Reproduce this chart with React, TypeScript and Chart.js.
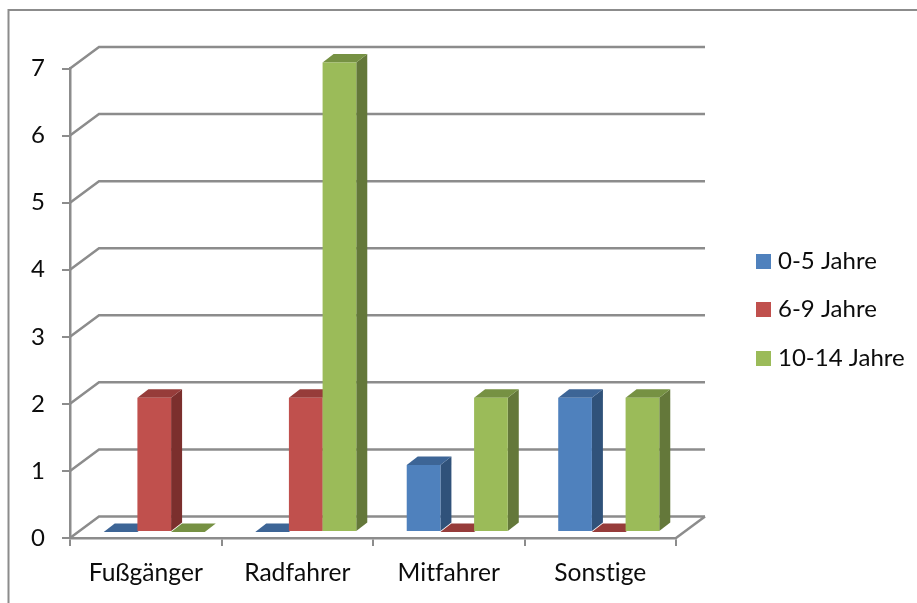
import React, { useEffect, useRef } from "react";
import { Chart, registerables } from "chart.js";

Chart.register(...registerables);

const categories = ["Fußgänger", "Radfahrer", "Mitfahrer", "Sonstige"];
const seriesNames = ["0-5 Jahre", "6-9 Jahre", "10-14 Jahre"];
const youngest = [0, 0, 1, 2];
const middle = [2, 2, 0, 0];
const oldest = [0, 7, 2, 2];

const frontColors = ["#4F81BD", "#C0504D", "#9BBB59"];
const topColors = ["#3D6596", "#963C3A", "#769143"];
const sideColors = ["#30527A", "#7B2F2D", "#64783A"];

const AXIS_COLOR = "#8C8C8C";
const TEXT_COLOR = "#0C0C0C";
const FONT_FAMILY = "Lato";
const FONT_SIZE = 24;
const CATEGORY_FONT_SIZE = 24.6;
const LINE_WIDTH = 2.5;

// Floor and wall depth of the pseudo-3D box, and the depth of a single bar.
const WALL_DX = 29;
const WALL_DY = 21.5;
const BAR_DX = 11;
const BAR_DY = 8.5;
const BAR_SHIFT_X = 8.5;
const BAR_SHIFT_Y = 6;

const LEGEND_X = 756;
const LEGEND_ROWS = [261.5, 309.5, 358.5];

const polygon = (ctx: CanvasRenderingContext2D, pts: number[][], fill: string) => {
  ctx.beginPath();
  pts.forEach(([x, y], i) => (i ? ctx.lineTo(x, y) : ctx.moveTo(x, y)));
  ctx.closePath();
  ctx.fillStyle = fill;
  ctx.fill();
};

const framePlugin = {
  id: "frame",
  beforeDraw(chart: any) {
    const { ctx } = chart;
    // A tiny spacing keeps the "ti" and "tf" pairs as separate letters.
    ctx.letterSpacing = "0.01px";
    ctx.save();
    ctx.strokeStyle = AXIS_COLOR;
    ctx.lineWidth = 2;
    ctx.beginPath();
    ctx.moveTo(8.5, chart.height);
    ctx.lineTo(8.5, 10);
    ctx.lineTo(chart.width, 10);
    ctx.stroke();
    ctx.restore();
  },
};

// Back wall lines, side wall diagonals and floor edge.
const wallPlugin = {
  id: "wall",
  beforeDatasetsDraw(chart: any) {
    const { ctx, chartArea, scales } = chart;
    const { left, right } = chartArea;
    ctx.save();
    ctx.strokeStyle = AXIS_COLOR;
    ctx.lineWidth = LINE_WIDTH;
    scales.y.ticks.forEach((t: any) => {
      const y = scales.y.getPixelForValue(t.value);
      ctx.beginPath();
      ctx.moveTo(left, y);
      ctx.lineTo(left + WALL_DX, y - WALL_DY);
      ctx.lineTo(right + WALL_DX, y - WALL_DY);
      ctx.stroke();
    });
    const y0 = scales.y.getPixelForValue(0);
    ctx.beginPath();
    ctx.moveTo(right + WALL_DX, y0 - WALL_DY);
    ctx.lineTo(right, y0);
    ctx.stroke();
    ctx.restore();
  },
};

// Paints the series front to back in series order, so that each bar's front
// face covers the depth faces of its left neighbour.
const barDepthPlugin = {
  id: "barDepth",
  beforeDatasetsDraw(chart: any) {
    const { ctx } = chart;
    chart.data.datasets.forEach((_: any, i: number) => {
      const meta = chart.getDatasetMeta(i);
      ctx.save();
      ctx.translate(BAR_SHIFT_X, -BAR_SHIFT_Y);
      meta.data.forEach((bar: any) => {
        const l = bar.x - bar.width / 2;
        const r = bar.x + bar.width / 2;
        const t = bar.y;
        const b = bar.base;
        if (b > t) {
          polygon(ctx, [[r, t], [r + BAR_DX, t - BAR_DY], [r + BAR_DX, b - BAR_DY], [r, b]], sideColors[i]);
        }
        polygon(ctx, [[l, t], [l + BAR_DX, t - BAR_DY], [r + BAR_DX, t - BAR_DY], [r, t]], topColors[i]);
      });
      meta.controller.draw();
      ctx.restore();
    });
    return false;
  },
};

const sideLegendPlugin = {
  id: "sideLegend",
  afterDraw(chart: any) {
    const { ctx } = chart;
    ctx.save();
    ctx.font = `${FONT_SIZE}px ${FONT_FAMILY}`;
    ctx.textBaseline = "middle";
    ctx.textAlign = "left";
    chart.data.datasets.forEach((ds: any, i: number) => {
      const cy = LEGEND_ROWS[i];
      ctx.fillStyle = ds.backgroundColor;
      ctx.fillRect(LEGEND_X, cy - 7.5, 15, 15);
      ctx.fillStyle = TEXT_COLOR;
      ctx.fillText(ds.label, LEGEND_X + 22, cy);
    });
    ctx.restore();
  },
};

export default function App() {
  const ref = useRef<HTMLCanvasElement>(null);

  useEffect(() => {
    const chart = new Chart(ref.current!, {
      type: "bar",
      data: {
        labels: categories,
        datasets: [youngest, middle, oldest].map((data, i) => ({
          label: seriesNames[i],
          data,
          backgroundColor: frontColors[i],
          categoryPercentage: 0.667,
          barPercentage: 1,
        })),
      },
      options: {
        animation: false,
        responsive: false,
        layout: { padding: { left: 0, top: 68.5, right: 241, bottom: 0 } },
        plugins: { legend: { display: false }, tooltip: { enabled: false } },
        scales: {
          x: {
            afterFit: (s: any) => {
              s.height = 65;
            },
            border: { color: AXIS_COLOR, width: LINE_WIDTH },
            grid: {
              offset: true,
              drawOnChartArea: false,
              color: AXIS_COLOR,
              lineWidth: 2,
              tickLength: 8,
            },
            ticks: {
              color: TEXT_COLOR,
              padding: 12,
              maxRotation: 0,
              font: { family: FONT_FAMILY, size: CATEGORY_FONT_SIZE },
            },
          },
          y: {
            min: 0,
            max: 7,
            afterFit: (s: any) => {
              s.width = 70;
            },
            border: { color: AXIS_COLOR, width: LINE_WIDTH },
            grid: {
              drawOnChartArea: false,
              color: AXIS_COLOR,
              lineWidth: 2,
              tickLength: 8,
            },
            ticks: {
              stepSize: 1,
              color: TEXT_COLOR,
              padding: 17,
              font: { family: FONT_FAMILY, size: FONT_SIZE },
            },
          },
        },
      },
      plugins: [framePlugin, wallPlugin, barDepthPlugin, sideLegendPlugin],
    });
    return () => chart.destroy();
  }, []);

  return (
    <canvas
      ref={ref}
      width={917}
      height={603}
      style={{ position: "absolute", left: 0, top: 0, width: 917, height: 603 }}
    />
  );
}
